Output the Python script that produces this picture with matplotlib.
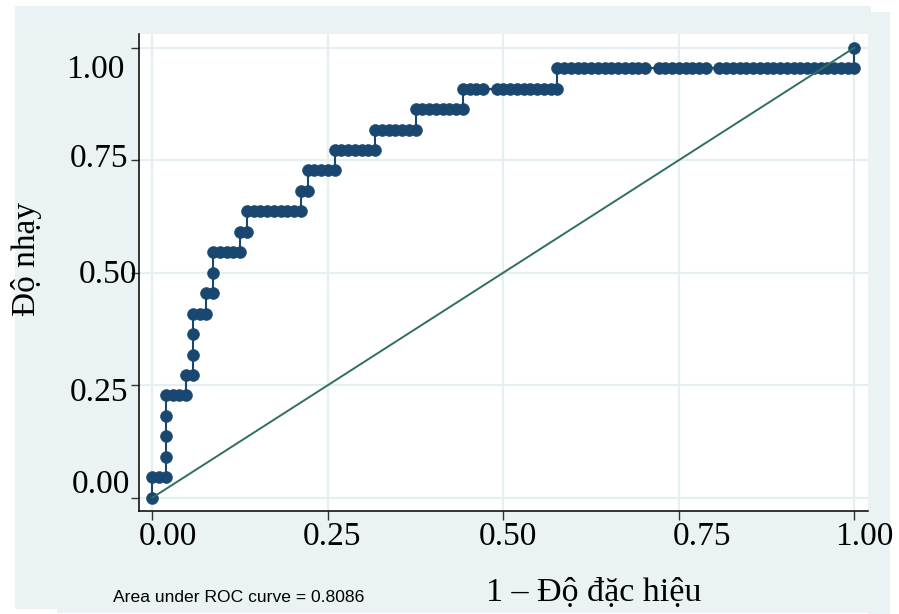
import matplotlib
matplotlib.use("Agg")
import matplotlib.pyplot as plt
from matplotlib.patches import Rectangle
from matplotlib.transforms import ScaledTranslation

# ROC curve points: cumulative false positives (of 104 negatives) and
# true positives (of 22 positives) at each cutoff
n_neg = 104
n_pos = 22
fp_count = [0, 0, 1, 2, 2, 2, 2, 2,
            3, 4, 5, 5,
            6, 6, 6, 6,
            7, 8, 8,
            9, 9, 9,
            10, 11, 12, 13, 13,
            14, 14,
            15, 16, 17, 18, 19, 20, 21, 22, 22,
            23, 23,
            24, 25, 26, 27, 27,
            28, 29, 30, 31, 32, 33, 33,
            34, 35, 36, 37, 38, 39, 39,
            40, 41, 42, 43, 44, 45, 46, 46,
            47, 48, 49, 51, 52, 53, 54, 55, 56, 57, 58, 59, 60, 60,
            61, 62, 63, 64, 65, 66, 67, 68, 69, 70, 71, 72, 73,
            75, 76, 77, 78, 79, 80, 81, 82,
            84, 85, 86, 87, 88, 89, 90, 91, 92, 93, 94, 95, 96, 97, 98, 99,
            100, 101, 102, 103, 104,
            104]
tp_count = [0, 1, 1, 1, 2, 3, 4, 5,
            5, 5, 5, 6,
            6, 7, 8, 9,
            9, 9, 10,
            10, 11, 12,
            12, 12, 12, 12, 13,
            13, 14,
            14, 14, 14, 14, 14, 14, 14, 14, 15,
            15, 16,
            16, 16, 16, 16, 17,
            17, 17, 17, 17, 17, 17, 18,
            18, 18, 18, 18, 18, 18, 19,
            19, 19, 19, 19, 19, 19, 19, 20,
            20, 20, 20, 20, 20, 20, 20, 20, 20, 20, 20, 20, 20, 21,
            21, 21, 21, 21, 21, 21, 21, 21, 21, 21, 21, 21, 21,
            21, 21, 21, 21, 21, 21, 21, 21,
            21, 21, 21, 21, 21, 21, 21, 21, 21, 21, 21, 21, 21, 21, 21, 21,
            21, 21, 21, 21, 21,
            22]

fpr = [v / n_neg for v in fp_count]
tpr = [v / n_pos for v in tp_count]

tick_values = [0.0, 0.25, 0.5, 0.75, 1.0]
tick_labels = ["0.00", "0.25", "0.50", "0.75", "1.00"]
x_title = "1 \u2013 Độ đặc hiệu"
y_title = "Độ nhạy"
auc_note = "Area under ROC curve = 0.8086"

W, H = 899, 614
serif = ["Liberation Serif", "DejaVu Serif"]
navy = "#1A476F"
ref_green = "#2F705F"
bg = "#EAF2F3"
grid_c = "#E5EEF0"


def fx(px):
    return px / W


def fy(py):
    return 1 - py / H


fig = plt.figure(figsize=(W / 100, H / 100), dpi=100)
fig.patch.set_facecolor("white")

# graph region background
for (x0, y0, x1, y1) in [(15, 5.7, 871, 609), (57, 5.7, 868, 613), (868, 12, 890, 614)]:
    fig.add_artist(Rectangle((fx(x0), fy(y1)), fx(x1) - fx(x0), fy(y0) - fy(y1),
                             transform=fig.transFigure, facecolor=bg,
                             edgecolor="none", zorder=0))

ax = fig.add_axes([fx(139.3), fy(511), fx(868) - fx(139.3), fy(34.3) - fy(511)])
ax.set_facecolor("white")
ax.set_zorder(1)

ax.plot(fpr, tpr, color=navy, lw=1.5, marker="o", markersize=8.6,
        markerfacecolor=navy, markeredgecolor=navy, markeredgewidth=0.4,
        zorder=3, clip_on=False)
ax.plot([0, 1], [0, 1], color=ref_green, lw=1.4, zorder=4)

ax.set_xlim((139.3 - 152.3) / 702, (868 - 152.3) / 702)
ax.set_ylim(-(511 - 497.7) / 450, (497.7 - 34.3) / 450)

ax.set_xticks(tick_values)
ax.set_xticklabels(tick_labels)
ax.set_yticks(tick_values)
ax.set_yticklabels(tick_labels)
ax.grid(True, color=grid_c, lw=1.6, zorder=0)
ax.set_axisbelow(True)

for s in ["top", "right"]:
    ax.spines[s].set_visible(False)
for s in ["left", "bottom"]:
    ax.spines[s].set_color("black")
    ax.spines[s].set_linewidth(1.1)

ax.tick_params(axis="y", length=5.5, width=1.0, color="#333333", pad=2.6,
               labelsize=24)
ax.tick_params(axis="x", length=6.5, width=1.0, color="#333333", pad=1.0,
               labelsize=24)
for lab in ax.get_xticklabels() + ax.get_yticklabels():
    lab.set_fontfamily(serif)
    lab.set_color("black")

# per-label placement shifts (pixels: right, down)
y_shift = {"0.00": (2, -16), "0.25": (0.3, 4.3), "0.50": (8.7, -1),
           "0.75": (0.3, -5), "1.00": (-4, 19)}
x_shift = {"0.00": 16, "0.25": 4.7, "0.50": 5, "0.75": 22.7, "1.00": 9.8}
for lab, txt in zip(ax.get_yticklabels(), tick_labels):
    dx, dy = y_shift[txt]
    lab.set_transform(lab.get_transform() +
                      ScaledTranslation(dx / 100, -dy / 100, fig.dpi_scale_trans))
for lab, txt in zip(ax.get_xticklabels(), tick_labels):
    lab.set_transform(lab.get_transform() +
                      ScaledTranslation(x_shift[txt] / 100, 0, fig.dpi_scale_trans))

fig.text(fx(26), fy(259), y_title, rotation=90, ha="center", va="center",
         fontsize=24, family=serif, color="black")
fig.text(fx(594), fy(593), x_title, ha="center", va="center",
         fontsize=24.5, family=serif, color="black")
fig.text(fx(239), fy(597), auc_note, ha="center", va="center",
         fontsize=12.6, family=["Liberation Sans", "DejaVu Sans"], color="black")

fig.savefig("out.png", dpi=100, facecolor="white")
